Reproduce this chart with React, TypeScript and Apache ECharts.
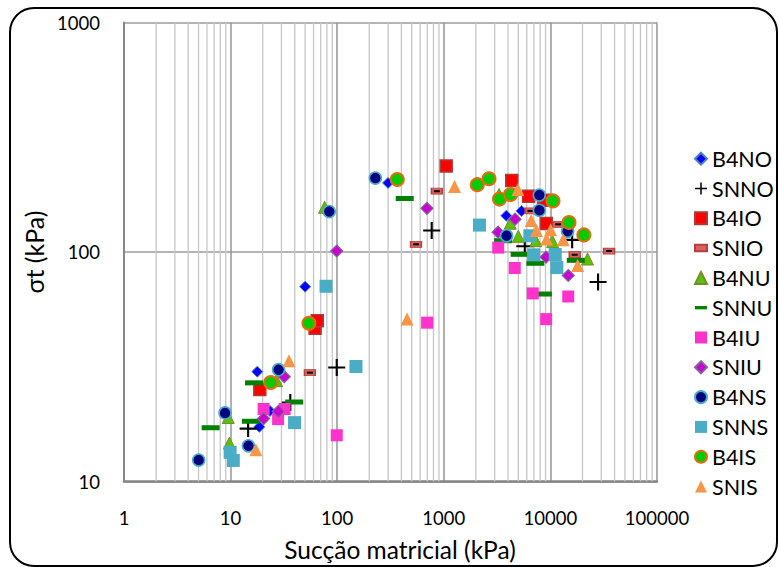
import React, { useEffect, useRef } from "react";
import * as echarts from "echarts";

// ---- data (x: succao matricial kPa, y: sigma t kPa) ----
const B4NO = [[17.8, 30.1], [18.6, 17.3], [23.4, 20.3], [50, 70.6], [300, 200], [3860, 144], [5360, 151]];
const SNNO = [[14.6, 17], [36.3, 22.1], [99, 31.4], [770, 124], [5750, 106], [16000, 113], [28000, 74]];
const B4IO = [[18.8, 25.2], [62, 46.5], [65, 50.2], [1053, 237], [4340, 205], [6250, 175], [8630, 168], [9150, 133]];
const SNIO = [[55.4, 29.8], [548, 108], [860, 184], [6500, 151], [11800, 132], [16900, 97.3], [35500, 101]];
const B4NU = [[9.5, 19], [9.75, 14.7], [27, 27.5], [76.2, 156.6], [3300, 178], [4200, 133.5], [5000, 117], [7300, 112], [10500, 111], [22300, 93.2]];
const SNNU = [[6.5, 17.15], [15.5, 18.3], [16.6, 26.9], [39.5, 22.2], [430, 171], [3600, 112], [5150, 97.7], [7230, 89.3], [8500, 65.6], [17300, 92]];
const B4IU = [[20.4, 20.7], [27.9, 18.7], [32.1, 20.7], [99, 15.9], [697, 49.2], [3240, 104.5], [4630, 85.2], [6830, 66], [9120, 51], [14700, 64]];
const SNIU = [[20.4, 18.8], [28, 20.2], [31.9, 28.6], [99, 101], [695, 155], [3230, 122], [4660, 139], [9100, 95], [14700, 79]];
const B4NS = [[5.02, 12.4], [8.87, 19.9], [14.7, 14.3], [28.2, 30.7], [84.2, 150], [228, 210], [7870, 177], [7880, 152], [3880, 117.7], [14500, 123]];
const SNNS = [[9.9, 13.4], [10.6, 12.35], [39.8, 18.05], [78.6, 70.9], [150, 31.7], [2160, 131], [6410, 117.7], [6960, 97.2], [11100, 97.5], [11500, 85.5]];
const B4IS = [[23.8, 27], [54.3, 48.9], [366, 207], [2060, 196.5], [2655, 208.5], [3330, 170], [4230, 178], [10570, 167], [14950, 134.5], [20600, 118.7]];
const SNIS = [[17.25, 13.75], [35.3, 33.6], [452, 51], [1261, 193], [4950, 187], [6600, 137], [7400, 124], [10050, 125], [9200, 114], [13200, 113], [18000, 87.3]];

const seriesNames = ["B4NO", "SNNO", "B4IO", "SNIO", "B4NU", "SNNU", "B4IU", "SNIU", "B4NS", "SNNS", "B4IS", "SNIS"];
const xTickLabels = ["1", "10", "100", "1000", "10000", "100000"];
const yTickLabels = ["10", "100", "1000"];

// minor vertical grid positions (2..9 per decade)
const minorGrid: number[][] = [];
for (let e = 0; e < 5; e++) for (let m = 2; m <= 9; m++) minorGrid.push([m * Math.pow(10, e), 10]);

const FONT = "Lato";
const PLUS = "path://M0,7h16v2h-16z M7,0h2v16h-2z";
const DASH = "path://M0,0h18v5h-18z";
const SMALLDASH = "path://M0,0h11v6h-11z";

export default function App() {
  const ref = useRef<HTMLDivElement>(null);
  useEffect(() => {
    document.body.style.margin = "0";
    const chart = echarts.init(ref.current!, null, { renderer: "svg" });
    const sc = (name: string, data: number[][], symbol: string, size: any, style: any, z = 2) => ({
      type: "scatter",
      name,
      data,
      symbol,
      symbolSize: size,
      z,
      itemStyle: { opacity: 1, ...style },
      emphasis: { disabled: true },
    });
    const option: any = {
      animation: false,
      backgroundColor: "#fff",
      grid: { left: 124, top: 22.5, width: 533, height: 459, containLabel: false },
      xAxis: {
        type: "log",
        logBase: 10,
        min: 1,
        max: 100000,
        name: "Sucção matricial (kPa)",
        nameLocation: "middle",
        nameGap: 55,
        nameTextStyle: { fontFamily: FONT, fontSize: 24.5, color: "#000", padding: [0, 0, 0, 19] },
        axisLine: { show: true, onZero: false, lineStyle: { color: "#868686", width: 2.5 } },
        axisTick: { show: false },
        axisLabel: {
          fontFamily: FONT,
          fontSize: 18.5,
          color: "#000",
          margin: 27,
          formatter: (v: number) => xTickLabels[Math.round(Math.log10(v))] ?? "",
        },
        splitLine: { show: true, lineStyle: { color: "#9c9c9c", width: 1.6 } },
      },
      yAxis: {
        type: "log",
        logBase: 10,
        min: 10,
        max: 1000,
        name: "σt (kPa)",
        nameLocation: "middle",
        nameGap: 52,
        nameTextStyle: { fontFamily: FONT, fontSize: 25, color: "#000" },
        axisLine: { show: true, onZero: false, lineStyle: { color: "#868686", width: 2 } },
        axisTick: { show: false },
        axisLabel: {
          fontFamily: FONT,
          fontSize: 18.5,
          color: "#000",
          margin: 24,
          formatter: (v: number) => yTickLabels[Math.round(Math.log10(v)) - 1] ?? "",
        },
        splitLine: { show: true, lineStyle: { color: "#9c9c9c", width: 1.6 } },
      },
      legend: {
        orient: "vertical",
        left: 689,
        top: 142.7,
        itemWidth: 12,
        itemHeight: 12,
        itemGap: 7.8,
        selectedMode: false,
        textStyle: { fontFamily: FONT, fontSize: 21.5, color: "#000", lineHeight: 20 },
        data: [
          { name: "B4NO", icon: "diamond" },
          { name: "SNNO", icon: PLUS },
          { name: "B4IO", icon: "rect" },
          { name: "SNIO", icon: SMALLDASH },
          { name: "B4NU", icon: "triangle" },
          { name: "SNNU", icon: DASH },
          { name: "B4IU", icon: "rect" },
          { name: "SNIU", icon: "diamond" },
          { name: "B4NS", icon: "circle" },
          { name: "SNNS", icon: "rect" },
          { name: "B4IS", icon: "circle" },
          { name: "SNIS", icon: "triangle" },
        ],
      },
      graphic: [
        {
          type: "rect",
          shape: { x: 10, y: 8, width: 767, height: 558, r: 24 },
          style: { fill: "none", stroke: "#000", lineWidth: 2 },
          silent: true,
          z: 100,
        },
      ],
      series: [
        {
          type: "custom",
          name: "minorGrid",
          silent: true,
          z: 1,
          data: minorGrid,
          renderItem: (params: any, api: any) => {
            const v = api.value(0);
            const pb = api.coord([v, 10]);
            const pt = api.coord([v, 1000]);
            return {
              type: "line",
              shape: { x1: pb[0], y1: pt[1], x2: pb[0], y2: pb[1] },
              style: { stroke: "#c6c6c6", lineWidth: 1.3 },
            };
          },
        },
        sc(seriesNames[0], B4NO, "diamond", 11, { color: "#0000ff", borderColor: "#4f81bd", borderWidth: 1 }),
        sc(seriesNames[1], SNNO, PLUS, 17, { color: "#000" }),
        sc(seriesNames[2], B4IO, "rect", 12, { color: "#ff0000", borderColor: "#b03a36", borderWidth: 1.5 }),
        sc(seriesNames[3], SNIO, "rect", [11, 6], { color: "#d9605c", borderColor: "#b0413e", borderWidth: 1 }),
        sc("SNIO_mark", SNIO, "rect", [6, 2], { color: "#000" }),
        sc(seriesNames[4], B4NU, "triangle", 12, { color: "#5fbf00", borderColor: "#6f8f2a", borderWidth: 1 }),
        sc(seriesNames[5], SNNU, DASH, [18, 5], { color: "#008000" }),
        sc(seriesNames[6], B4IU, "rect", 12, { color: "#ff33cc" }),
        sc(seriesNames[7], SNIU, "diamond", 12, { color: "#cc00cc", borderColor: "#8064a2", borderWidth: 1.2 }),
        sc(seriesNames[8], B4NS, "circle", 12, { color: "#000080", borderColor: "#4bacc6", borderWidth: 1.6 }),
        sc(seriesNames[9], SNNS, "rect", 13, { color: "#4bacc6" }),
        sc(seriesNames[10], B4IS, "circle", 13, { color: "#00cc00", borderColor: "#e46c0a", borderWidth: 2 }),
        sc(seriesNames[11], SNIS, "triangle", 13, { color: "#f79646" }),
      ],
    };
    chart.setOption(option);
    return () => chart.dispose();
  }, []);
  return <div ref={ref} style={{ position: "fixed", left: 0, top: 0, width: 779, height: 567 }} />;
}
